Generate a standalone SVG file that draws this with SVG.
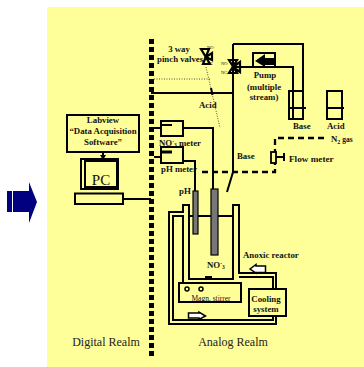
<svg xmlns="http://www.w3.org/2000/svg" width="364" height="367" viewBox="0 0 364 367">
<style>
.l{fill:none;stroke:#000;stroke-width:2}
.v{fill:none;stroke:#000;stroke-width:2.200}
.d{fill:none;stroke:#000;stroke-width:2.300;stroke-dasharray:6 4}
.e{fill:#777;stroke:#000;stroke-width:1.200}
text{font-family:"Liberation Serif","Times New Roman",serif;fill:#111}
.s{font-weight:bold;font-size:8.800px}
.m{font-size:12px;fill:#222}
.x{font-size:4.500px}
.w{fill:#fff;stroke:#000;stroke-width:1.500}
</style>
<rect x="47" y="7" width="317" height="360" fill="#ffff99"/>
<g id="arrow"><rect x="7" y="191" width="5" height="21" fill="#000080"/><path d="M13 191H29V182L37 202L29 223V212H13Z" fill="#000080"/></g>
<g id="connectors">
<path d="M151.500 39V356" fill="none" stroke="#000" stroke-width="5" stroke-dasharray="5 3"/>
<path class="l" d="M151 93H233M233 44V172L227 192M233 44H303V91M233 67H293V119"/>
<path fill="none" stroke="#222" stroke-width="0.800" stroke-dasharray="1 1.500" d="M154 79H210M206 67L220 128"/>
<path class="l" d="M211 88L212.500 95"/>
<path class="l" d="M154 128H161M183 128H213V189M154 157H161M183 161H195V191"/>
<path class="d" d="M202 172H275V138H325"/>
<path class="l" d="M123 199H151M103 152V155"/>
<path d="M100 155H106L103 160Z"/>
</g>
<g id="labview"><rect x="67" y="115" width="72" height="37" class="l"/>
<text class="s" text-anchor="middle" x="103" y="123">Labview</text><text class="s" text-anchor="middle" x="103" y="134">“Data Acquisition</text><text class="s" text-anchor="middle" x="103" y="145">Software”</text></g>
<g id="pc"><rect x="81" y="159" width="37" height="30" class="l"/><rect x="85" y="161" width="32" height="26" class="l"/><text x="101" y="185" text-anchor="middle" font-size="15">PC</text><rect x="75" y="193.500" width="48" height="10.500" class="l"/></g>
<g id="no3-meter"><rect x="161" y="121" width="22" height="15" class="l"/><path class="l" d="M162 125h10"/><text class="s" x="159" y="146">NO<tspan font-size="5.500" dy="-3">-</tspan><tspan font-size="5.500" dy="4">3</tspan><tspan dy="-1"> meter</tspan></text></g>
<g id="ph-meter"><rect x="161" y="147" width="22" height="16" class="l"/><path d="M162 152h10" fill="none" stroke="#000" stroke-width="3"/><text class="s" x="161" y="172">pH meter</text></g>
<g id="valve1"><path class="v" d="M201 49H209L203 64H210ZM206 57L212 53V60Z"/><text class="x" x="207" y="49">NO</text><text class="x" x="207" y="65">NC</text><text class="s" text-anchor="middle" x="179" y="52">3 way</text><text class="s" x="157" y="62">pinch valves</text></g>
<g id="valve2"><path class="v" d="M229 60H237L229 73H237ZM233 67L240 62V72Z"/><text class="x" x="221" y="65">NO</text><text class="x" x="221" y="74">NC</text></g>
<g id="pump"><rect x="253" y="53" width="22" height="14" class="l"/><path d="M255 61L265 54V58H275V65H265V67Z"/><text class="s" text-anchor="middle" x="265" y="78">Pump</text><text class="s" text-anchor="middle" x="264" y="90">(multiple</text><text class="s" text-anchor="middle" x="264" y="100">stream)</text></g>
<g id="base"><rect x="289" y="91" width="14" height="28" class="l"/><path class="l" d="M289 108H306"/><text class="s" x="293" y="129">Base</text></g>
<g id="acid"><rect x="327" y="91" width="15" height="28" class="l"/><path class="l" d="M327 108H344"/><text class="s" x="327" y="129">Acid</text></g>
<text class="s" x="199" y="108">Acid</text>
<text class="s" x="237" y="159">Base</text>
<g id="n2"><text class="s" x="331" y="142">N<tspan font-size="6" dy="2">2</tspan><tspan dy="-2" font-size="7.500"> gas</tspan></text></g>
<g id="flow"><rect x="271" y="152" width="5" height="11" fill="#ffff99" stroke="#000" stroke-width="1.800"/><path class="l" d="M276 157H283M284 153V161"/><text class="s" x="289" y="162" style="font-size:9.200px">Flow meter</text></g>
<g id="reactor">
<path class="l" d="M169 212H183V205H189V279H233V205H239V273H276V324H169ZM189 216H233"/>
<path class="l" d="M183 283V216H173V320H273V277H239"/>
<rect x="193" y="191" width="5" height="43" class="e"/><rect x="211" y="189" width="7" height="66" class="e"/>
<text class="s" x="179" y="194">pH</text>
<text class="s" x="207" y="268">NO<tspan font-size="5.500" dy="-3">-</tspan><tspan font-size="5.500" dy="4">3</tspan></text>
<text class="s" x="243" y="258">Anoxic reactor</text>
<path d="M205 276H212V279H205Z"/></g>
<g id="stirrer"><rect x="179" y="283" width="62" height="19" class="l"/><circle cx="187" cy="289" r="2" fill="none" stroke="#000" stroke-width="1.500"/><circle cx="201" cy="289" r="2" fill="none" stroke="#000" stroke-width="1.500"/><text x="211" y="301" text-anchor="middle" font-size="7.500">Magn. stirrer</text></g>
<g id="cooling"><rect x="249" y="289" width="37" height="27" fill="#ffff99" stroke="#000" stroke-width="2"/><text class="s" text-anchor="middle" x="266" y="302">Cooling</text><text class="s" text-anchor="middle" x="266" y="312">system</text></g>
<path class="w" d="M250 269L256 264.500V266H265.500V272.500H256V273Z"/>
<path class="w" d="M188.500 313H199V312L205.500 316L199 319.500V318H188.500Z"/>
<text x="106" y="346" text-anchor="middle" class="m">Digital Realm</text>
<text x="233" y="346" text-anchor="middle" class="m">Analog Realm</text>
</svg>
